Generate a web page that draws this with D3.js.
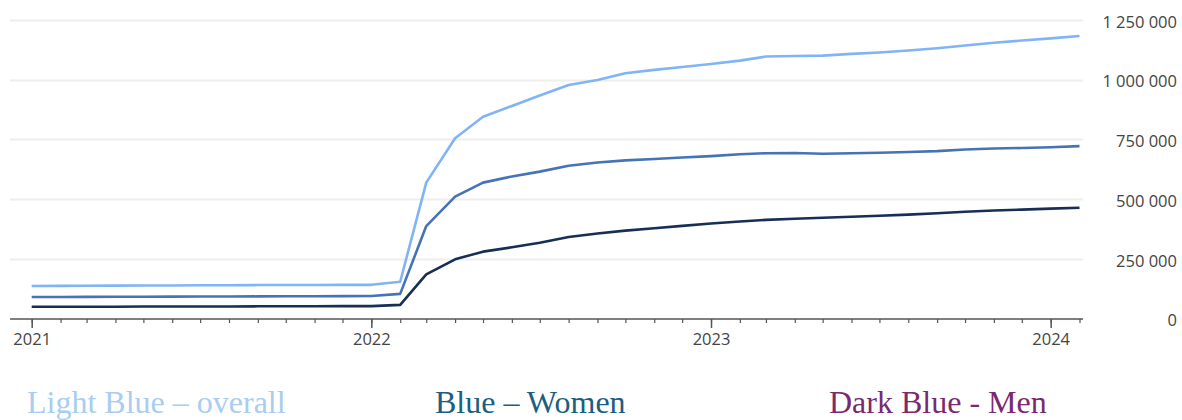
<!DOCTYPE html>
<html>
<head>
<meta charset="utf-8">
<script src="https://cdn.jsdelivr.net/npm/d3@7"></script>
<style>
  html, body { margin: 0; padding: 0; background: #fff; }
  svg { display: block; }
</style>
</head>
<body>
<svg id="chart" width="1182" height="420"></svg>
<script>
// Monthly observations, January 2021 – February 2024
const months = d3.timeMonths(new Date(2021, 0, 1), new Date(2024, 1, 2));

const overall = [
  136000, 136500, 137000, 137500, 138000, 138500, 139000, 139500, 140000, 140000, 140500, 141000,
  141000, 154000, 569000, 755000, 845000, 890000, 934000, 978000, 999000, 1027000, 1041000, 1053000,
  1066000, 1080000, 1097000, 1099000, 1101000, 1108000, 1114000, 1122000, 1132000, 1143000, 1155000, 1164000,
  1173000, 1183000
];
const women = [
  90000, 90000, 90500, 91000, 91000, 91500, 92000, 92000, 92500, 93000, 93000, 93500,
  94000, 103000, 387000, 510000, 569000, 595000, 615000, 640000, 653000, 662000, 668000, 674000,
  680000, 688000, 692000, 693000, 690000, 692000, 694000, 697000, 701000, 708000, 712000, 714000,
  717000, 722000
];
const men = [
  49000, 49000, 49500, 49500, 50000, 50000, 50500, 50500, 51000, 51000, 51500, 52000,
  52000, 57000, 185000, 248000, 280000, 298000, 317000, 341000, 356000, 368000, 378000, 388000,
  398000, 406000, 413000, 418000, 422000, 426000, 430000, 435000, 441000, 447000, 452000, 456000,
  460000, 464000
];

const seriesNames = ["overall", "women", "men"];
const lineColors = ["#80b4f4", "#4673b6", "#172e55"];
const yTickValues = [0, 250000, 500000, 750000, 1000000, 1250000];
const legendLabels = ["Light Blue \u2013 overall", "Blue \u2013 Women", "Dark Blue - Men"];
const legendColors = ["#a8cdf0", "#1c5e80", "#7a2970"];

const svg = d3.select("#chart");

const x = d3.scaleTime()
  .domain([new Date(2021, 0, 1), new Date(2024, 1, 1)])
  .range([31.7, 1079.5]);

const y = d3.scaleLinear()
  .domain([0, 1250000])
  .range([318.5, 20]);

const plotLeft = 10, plotRight = 1083, axisY = 319;

const fmt = d3.formatLocale({ decimal: ",", thousands: " ", grouping: [3], currency: ["", ""] }).format(",d");

// horizontal gridlines
svg.append("g")
  .selectAll("line")
  .data(yTickValues.filter(v => v > 0))
  .join("line")
  .attr("x1", plotLeft)
  .attr("x2", plotRight)
  .attr("y1", d => Math.round(y(d)) + 0.5)
  .attr("y2", d => Math.round(y(d)) + 0.5)
  .attr("stroke", "#eeeeee")
  .attr("stroke-width", 2);

// y-axis labels on the right
const yAxis = d3.axisRight(y)
  .tickValues(yTickValues)
  .tickFormat(fmt)
  .tickSize(0)
  .tickPadding(0);

const yg = svg.append("g")
  .attr("transform", "translate(1177,2)")
  .call(yAxis);
yg.select(".domain").remove();
yg.selectAll("text")
  .attr("text-anchor", "end")
  .attr("x", 0)
  .attr("font-family", "'Open Sans', sans-serif")
  .attr("font-size", 16.5)
  .attr("fill", "#444");

// x axis: monthly minor ticks and yearly major ticks
const minor = d3.axisBottom(x)
  .ticks(d3.timeMonth.every(1))
  .tickSize(4)
  .tickFormat("");
const mg = svg.append("g")
  .attr("transform", `translate(0,${axisY})`)
  .call(minor);
mg.select(".domain").remove();
mg.selectAll("line").attr("stroke", "#555").attr("stroke-width", 1.2);

const major = d3.axisBottom(x)
  .ticks(d3.timeYear.every(1))
  .tickSize(9)
  .tickPadding(5)
  .tickFormat(d3.timeFormat("%Y"));
const xg = svg.append("g")
  .attr("transform", `translate(0,${axisY})`)
  .call(major);
xg.select(".domain").remove();
xg.selectAll("line").attr("stroke", "#555").attr("stroke-width", 1.5);
xg.selectAll("text")
  .attr("font-family", "'Open Sans', sans-serif")
  .attr("font-size", 16.5)
  .attr("fill", "#444");

// axis baseline
svg.append("line")
  .attr("x1", plotLeft)
  .attr("x2", plotRight)
  .attr("y1", axisY)
  .attr("y2", axisY)
  .attr("stroke", "#555")
  .attr("stroke-width", 1.5);

// lines
const table = [overall, women, men];
const line = d3.line()
  .x((d, i) => x(months[i]))
  .y(d => y(d));

svg.append("g")
  .selectAll("path")
  .data(table)
  .join("path")
  .attr("class", (d, i) => "line-" + seriesNames[i])
  .attr("d", line)
  .attr("fill", "none")
  .attr("stroke", (d, i) => lineColors[i])
  .attr("stroke-width", 2.6)
  .attr("stroke-linejoin", "round");

// legend text
const legendX = [27, 435, 829];
svg.append("g")
  .selectAll("text")
  .data(legendLabels)
  .join("text")
  .attr("x", (d, i) => legendX[i])
  .attr("y", 413)
  .attr("font-family", "'Liberation Serif', 'Times New Roman', serif")
  .attr("font-size", 32)
  .attr("fill", (d, i) => legendColors[i])
  .text(d => d);
</script>
</body>
</html>
